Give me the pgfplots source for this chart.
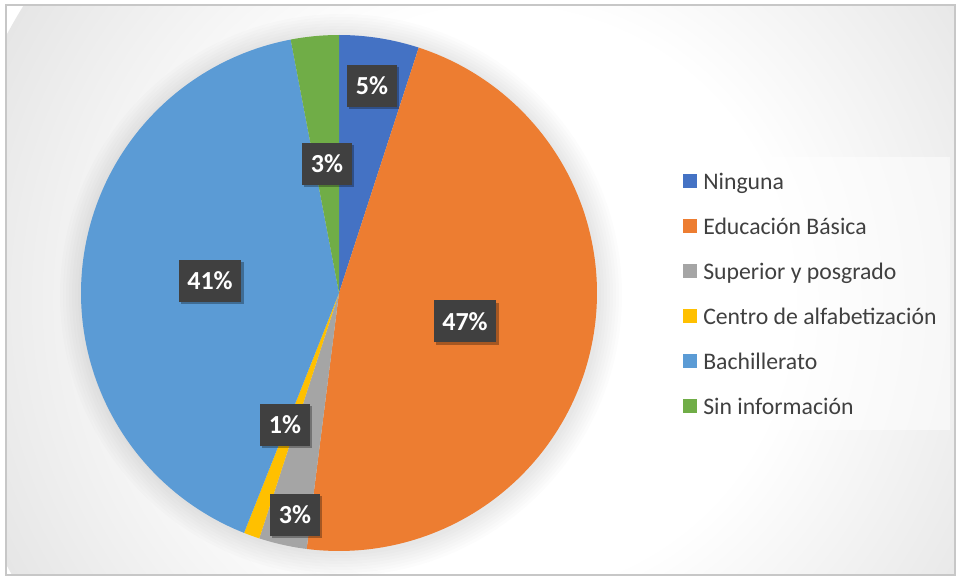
\documentclass[border=0pt]{standalone}
\usepackage{pgfplots}
\pgfplotsset{compat=1.18}
\usepackage{pgfplotstable}
\usepackage{fontspec}
\setmainfont{Carlito}
\usetikzlibrary{shadows}

\definecolor{cNin}{HTML}{4472C4}
\definecolor{cEdu}{HTML}{ED7D31}
\definecolor{cSup}{HTML}{A5A5A5}
\definecolor{cCen}{HTML}{FFC000}
\definecolor{cBac}{HTML}{5B9BD5}
\definecolor{cSin}{HTML}{70AD47}
\definecolor{lblgray}{HTML}{404040}
\definecolor{txtgray}{HTML}{404040}
\definecolor{bgA}{HTML}{E6E6E6}
\definecolor{bgB}{HTML}{D0D0D0}
\definecolor{bgC}{HTML}{C3C3C3}

\pgfdeclareradialshading{bgshade}{\pgfpoint{0bp}{0bp}}{%
  color(0bp)=(white); color(13bp)=(white); color(25bp)=(bgA);
  color(42bp)=(bgB); color(50bp)=(bgC)}

\tikzset{lbl/.style={fill=lblgray, text=white,
    font=\bfseries\fontsize{19.5pt}{20pt}\selectfont,
    minimum height=31.5pt, inner xsep=6.6pt, inner ysep=0pt,
    drop shadow={shadow xshift=1.6pt, shadow yshift=-1.6pt, opacity=0.3, fill=black}}}

\pgfplotstableread[col sep=comma]{
name,value
Ninguna,5
Educacion Basica,47
Superior y posgrado,3
Centro de alfabetizacion,1
Bachillerato,41
Sin informacion,3
}\piedata

% cumulative angles, clockwise from the top
\def\angA{90}
\pgfplotstablegetelem{0}{value}\of\piedata
\pgfmathsetmacro\angB{\angA-3.6*\pgfplotsretval}
\pgfplotstablegetelem{1}{value}\of\piedata
\pgfmathsetmacro\angC{\angB-3.6*\pgfplotsretval}
\pgfplotstablegetelem{2}{value}\of\piedata
\pgfmathsetmacro\angD{\angC-3.6*\pgfplotsretval}
\pgfplotstablegetelem{3}{value}\of\piedata
\pgfmathsetmacro\angE{\angD-3.6*\pgfplotsretval}
\pgfplotstablegetelem{4}{value}\of\piedata
\pgfmathsetmacro\angF{\angE-3.6*\pgfplotsretval}
\pgfplotstablegetelem{5}{value}\of\piedata
\pgfmathsetmacro\angG{\angF-3.6*\pgfplotsretval}

\begin{document}
\begin{tikzpicture}
% background (1px = 0.75pt)
\begin{scope}[x=0.75pt,y=0.75pt]
  \fill[white] (0,0) rectangle (957,578);
  \begin{scope}
    \clip (6,3) rectangle (955,573);
    \shade[shading=bgshade] (500,278) circle[radius=560];
  \end{scope}
  \draw[line width=1.2pt, draw=black!22] (6,3) rectangle (955,573);
  % soft shadow of the pie
  \foreach \r in {260,263,...,281} {
    \fill[black, opacity=0.012] (341,283) circle[radius=\r];
  }
\end{scope}

\begin{axis}[
  scale only axis,
  width=717.75pt, height=433.5pt,
  xmin=0, xmax=957, ymin=0, ymax=578,
  hide axis, clip=false,
  legend cell align=left,
  legend image code/.code={\fill[#1, fill opacity=1] (0pt,-5.25pt) rectangle (10.5pt,5.25pt);},
  legend style={
    at={(axis cs:670,421)}, anchor=north west,
    draw=none, fill=white, fill opacity=0.5, text opacity=1,
    inner xsep=9.75pt, inner ysep=1.1pt,
    row sep=0pt,
    font=\fontsize{17.8pt}{20pt}\selectfont, text=txtgray,
    nodes={inner sep=0pt, text height=22.76pt, text depth=11pt},
    /tikz/every odd column/.append style={column sep=4.5pt},
  },
]
\addplot[fill=cNin, draw=none, domain=\angB:\angA, samples=40]
  ({339+258*cos(x)},{285+258*sin(x)}) -- (axis cs:339,285) -- cycle;
\addlegendentry{Ninguna}
\addplot[fill=cEdu, draw=none, domain=\angC:\angB, samples=120]
  ({339+258*cos(x)},{285+258*sin(x)}) -- (axis cs:339,285) -- cycle;
\addlegendentry{Educación Básica}
\addplot[fill=cSup, draw=none, domain=\angD:\angC, samples=30]
  ({339+258*cos(x)},{285+258*sin(x)}) -- (axis cs:339,285) -- cycle;
\addlegendentry{Superior y posgrado}
\addplot[fill=cCen, draw=none, domain=\angE:\angD, samples=20]
  ({339+258*cos(x)},{285+258*sin(x)}) -- (axis cs:339,285) -- cycle;
\addlegendentry{Centro de alfabetización}
\addplot[fill=cBac, draw=none, domain=\angF:\angE, samples=120]
  ({339+258*cos(x)},{285+258*sin(x)}) -- (axis cs:339,285) -- cycle;
\addlegendentry{Bachillerato}
\addplot[fill=cSin, draw=none, domain=\angG:\angF, samples=30]
  ({339+258*cos(x)},{285+258*sin(x)}) -- (axis cs:339,285) -- cycle;
\addlegendentry{Sin información}

\node[lbl] at (axis cs:372,492) {5\%};
\node[lbl] at (axis cs:327,414) {3\%};
\node[lbl] at (axis cs:210,297) {41\%};
\node[lbl] at (axis cs:465,256.5) {47\%};
\node[lbl] at (axis cs:285,153) {1\%};
\node[lbl] at (axis cs:295,63) {3\%};
\end{axis}
\pgfresetboundingbox
\path (0,0) rectangle (717.75pt,433.5pt);
\end{tikzpicture}
\end{document}
